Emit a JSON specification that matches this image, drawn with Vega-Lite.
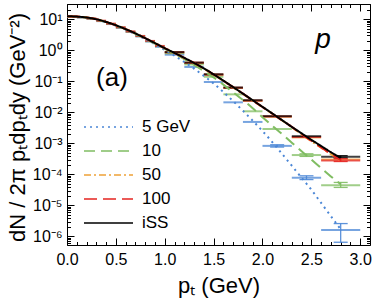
{
  "$schema": "https://vega.github.io/schema/vega-lite/v6.json",
  "width": 303,
  "height": 241,
  "autosize": {"type": "none"},
  "padding": {"left": 67, "top": 4, "right": 4, "bottom": 55},
  "background": "white",
  "config": {
    "view": {"stroke": null},
    "font": "Liberation Sans",
    "axis": {
      "grid": false,
      "domainColor": "black",
      "domainWidth": 1,
      "tickColor": "black",
      "tickWidth": 1,
      "labelColor": "black",
      "titleColor": "black",
      "labelFont": "Liberation Sans",
      "titleFont": "Liberation Sans",
      "labelFontSize": 16,
      "titleFontSize": 22,
      "titleFontWeight": "normal",
      "labelOverlap": false,
      "labelFlush": false,
      "labelBound": false
    },
    "legend": {
      "orient": "none", "legendX": 16, "legendY": 115, "title": null, "padding": 0,
      "labelFontSize": 17, "labelFont": "Liberation Sans", "labelColor": "black", "labelOffset": 8,
      "symbolSize": 2400, "clipHeight": 16, "rowPadding": 7, "symbolType": "stroke"
    }
  },
  "datasets": {
    "curves": [
      {"s":"5 GeV","pt":0.0,"v":12.3},{"s":"5 GeV","pt":0.1,"v":12.0},{"s":"5 GeV","pt":0.2,"v":11.2},{"s":"5 GeV","pt":0.3,"v":9.8},{"s":"5 GeV","pt":0.4,"v":8.0},{"s":"5 GeV","pt":0.5,"v":6.2},{"s":"5 GeV","pt":0.6,"v":4.6},{"s":"5 GeV","pt":0.7,"v":3.3},{"s":"5 GeV","pt":0.8,"v":2.3},{"s":"5 GeV","pt":0.9,"v":1.56},{"s":"5 GeV","pt":1.0,"v":1.03},{"s":"5 GeV","pt":1.1,"v":0.67},{"s":"5 GeV","pt":1.2,"v":0.42},{"s":"5 GeV","pt":1.3,"v":0.255},{"s":"5 GeV","pt":1.4,"v":0.15},{"s":"5 GeV","pt":1.5,"v":0.085},{"s":"5 GeV","pt":1.6,"v":0.045},{"s":"5 GeV","pt":1.7,"v":0.023},{"s":"5 GeV","pt":1.8,"v":0.0112},{"s":"5 GeV","pt":1.9,"v":0.0054},{"s":"5 GeV","pt":2.0,"v":0.0025},{"s":"5 GeV","pt":2.1,"v":0.0011},{"s":"5 GeV","pt":2.2,"v":0.00046},{"s":"5 GeV","pt":2.3,"v":0.00019},{"s":"5 GeV","pt":2.4,"v":0.000078},{"s":"5 GeV","pt":2.5,"v":0.000032},{"s":"5 GeV","pt":2.6,"v":0.000012},{"s":"5 GeV","pt":2.7,"v":0.0000045},{"s":"5 GeV","pt":2.8,"v":0.0000017},
      {"s":"10","pt":0.0,"v":12.4},{"s":"10","pt":0.1,"v":12.1},{"s":"10","pt":0.2,"v":11.3},{"s":"10","pt":0.3,"v":9.9},{"s":"10","pt":0.4,"v":8.1},{"s":"10","pt":0.5,"v":6.3},{"s":"10","pt":0.6,"v":4.7},{"s":"10","pt":0.7,"v":3.4},{"s":"10","pt":0.8,"v":2.38},{"s":"10","pt":0.9,"v":1.64},{"s":"10","pt":1.0,"v":1.12},{"s":"10","pt":1.1,"v":0.77},{"s":"10","pt":1.2,"v":0.52},{"s":"10","pt":1.3,"v":0.34},{"s":"10","pt":1.4,"v":0.215},{"s":"10","pt":1.5,"v":0.133},{"s":"10","pt":1.6,"v":0.078},{"s":"10","pt":1.7,"v":0.044},{"s":"10","pt":1.8,"v":0.025},{"s":"10","pt":1.9,"v":0.0135},{"s":"10","pt":2.0,"v":0.007},{"s":"10","pt":2.1,"v":0.0037},{"s":"10","pt":2.2,"v":0.002},{"s":"10","pt":2.3,"v":0.00105},{"s":"10","pt":2.4,"v":0.00056},{"s":"10","pt":2.5,"v":0.0003},{"s":"10","pt":2.6,"v":0.00016},{"s":"10","pt":2.7,"v":0.000086},{"s":"10","pt":2.8,"v":0.000048},
      {"s":"50","pt":0.0,"v":12.5},{"s":"50","pt":0.1,"v":12.2},{"s":"50","pt":0.2,"v":11.4},{"s":"50","pt":0.3,"v":10.0},{"s":"50","pt":0.4,"v":8.2},{"s":"50","pt":0.5,"v":6.4},{"s":"50","pt":0.6,"v":4.8},{"s":"50","pt":0.7,"v":3.5},{"s":"50","pt":0.8,"v":2.45},{"s":"50","pt":0.9,"v":1.7},{"s":"50","pt":1.0,"v":1.16},{"s":"50","pt":1.1,"v":0.81},{"s":"50","pt":1.2,"v":0.56},{"s":"50","pt":1.3,"v":0.385},{"s":"50","pt":1.4,"v":0.255},{"s":"50","pt":1.5,"v":0.165},{"s":"50","pt":1.6,"v":0.103},{"s":"50","pt":1.7,"v":0.064},{"s":"50","pt":1.8,"v":0.039},{"s":"50","pt":1.9,"v":0.024},{"s":"50","pt":2.0,"v":0.0147},{"s":"50","pt":2.1,"v":0.009},{"s":"50","pt":2.2,"v":0.0055},{"s":"50","pt":2.3,"v":0.0033},{"s":"50","pt":2.4,"v":0.00195},{"s":"50","pt":2.5,"v":0.00118},{"s":"50","pt":2.6,"v":0.00072},{"s":"50","pt":2.7,"v":0.00045},{"s":"50","pt":2.8,"v":0.00028},
      {"s":"100","pt":0.0,"v":12.5},{"s":"100","pt":0.1,"v":12.2},{"s":"100","pt":0.2,"v":11.4},{"s":"100","pt":0.3,"v":10.0},{"s":"100","pt":0.4,"v":8.2},{"s":"100","pt":0.5,"v":6.4},{"s":"100","pt":0.6,"v":4.8},{"s":"100","pt":0.7,"v":3.5},{"s":"100","pt":0.8,"v":2.45},{"s":"100","pt":0.9,"v":1.7},{"s":"100","pt":1.0,"v":1.17},{"s":"100","pt":1.1,"v":0.82},{"s":"100","pt":1.2,"v":0.57},{"s":"100","pt":1.3,"v":0.39},{"s":"100","pt":1.4,"v":0.26},{"s":"100","pt":1.5,"v":0.167},{"s":"100","pt":1.6,"v":0.104},{"s":"100","pt":1.7,"v":0.065},{"s":"100","pt":1.8,"v":0.04},{"s":"100","pt":1.9,"v":0.0243},{"s":"100","pt":2.0,"v":0.0149},{"s":"100","pt":2.1,"v":0.0091},{"s":"100","pt":2.2,"v":0.0055},{"s":"100","pt":2.3,"v":0.0034},{"s":"100","pt":2.4,"v":0.00198},{"s":"100","pt":2.5,"v":0.00121},{"s":"100","pt":2.6,"v":0.00074},{"s":"100","pt":2.7,"v":0.00046},{"s":"100","pt":2.8,"v":0.00029},
      {"s":"iSS","pt":0.0,"v":12.5},{"s":"iSS","pt":0.1,"v":12.2},{"s":"iSS","pt":0.2,"v":11.4},{"s":"iSS","pt":0.3,"v":10.0},{"s":"iSS","pt":0.4,"v":8.2},{"s":"iSS","pt":0.5,"v":6.4},{"s":"iSS","pt":0.6,"v":4.8},{"s":"iSS","pt":0.7,"v":3.5},{"s":"iSS","pt":0.8,"v":2.45},{"s":"iSS","pt":0.9,"v":1.7},{"s":"iSS","pt":1.0,"v":1.17},{"s":"iSS","pt":1.1,"v":0.82},{"s":"iSS","pt":1.2,"v":0.57},{"s":"iSS","pt":1.3,"v":0.39},{"s":"iSS","pt":1.4,"v":0.26},{"s":"iSS","pt":1.5,"v":0.168},{"s":"iSS","pt":1.6,"v":0.105},{"s":"iSS","pt":1.7,"v":0.065},{"s":"iSS","pt":1.8,"v":0.04},{"s":"iSS","pt":1.9,"v":0.0245},{"s":"iSS","pt":2.0,"v":0.015},{"s":"iSS","pt":2.1,"v":0.0092},{"s":"iSS","pt":2.2,"v":0.0056},{"s":"iSS","pt":2.3,"v":0.0034},{"s":"iSS","pt":2.4,"v":0.0021},{"s":"iSS","pt":2.5,"v":0.0013},{"s":"iSS","pt":2.6,"v":0.00082},{"s":"iSS","pt":2.7,"v":0.00052},{"s":"iSS","pt":2.8,"v":0.00034}
    ],
    "bars": [
      {"s":"5 GeV","lo":0.0,"hi":0.1,"v":12.0},{"s":"5 GeV","lo":0.1,"hi":0.2,"v":11.4},{"s":"5 GeV","lo":0.2,"hi":0.3,"v":10.3},{"s":"5 GeV","lo":0.3,"hi":0.4,"v":8.7},{"s":"5 GeV","lo":0.4,"hi":0.5,"v":7.0},{"s":"5 GeV","lo":0.5,"hi":0.6,"v":5.3},{"s":"5 GeV","lo":0.6,"hi":0.7,"v":3.9},{"s":"5 GeV","lo":0.7,"hi":0.8,"v":2.8},{"s":"5 GeV","lo":0.8,"hi":0.9,"v":1.92},{"s":"5 GeV","lo":0.9,"hi":1.0,"v":1.3},
      {"s":"5 GeV","lo":1.0,"hi":1.2,"v":0.72},{"s":"5 GeV","lo":1.2,"hi":1.4,"v":0.29},{"s":"5 GeV","lo":1.4,"hi":1.6,"v":0.095},{"s":"5 GeV","lo":1.6,"hi":1.8,"v":0.021},{"s":"5 GeV","lo":1.8,"hi":2.0,"v":0.0049},{"s":"5 GeV","lo":2.0,"hi":2.3,"v":0.00083},{"s":"5 GeV","lo":2.3,"hi":2.6,"v":0.000078},{"s":"5 GeV","lo":2.6,"hi":3.0,"v":0.0000016},
      {"s":"10","lo":0.0,"hi":0.1,"v":12.1},{"s":"10","lo":0.1,"hi":0.2,"v":11.5},{"s":"10","lo":0.2,"hi":0.3,"v":10.4},{"s":"10","lo":0.3,"hi":0.4,"v":8.8},{"s":"10","lo":0.4,"hi":0.5,"v":7.1},{"s":"10","lo":0.5,"hi":0.6,"v":5.4},{"s":"10","lo":0.6,"hi":0.7,"v":3.95},{"s":"10","lo":0.7,"hi":0.8,"v":2.85},{"s":"10","lo":0.8,"hi":0.9,"v":1.95},{"s":"10","lo":0.9,"hi":1.0,"v":1.34},
      {"s":"10","lo":1.0,"hi":1.2,"v":0.8},{"s":"10","lo":1.2,"hi":1.4,"v":0.35},{"s":"10","lo":1.4,"hi":1.6,"v":0.14},{"s":"10","lo":1.6,"hi":1.8,"v":0.038},{"s":"10","lo":1.8,"hi":2.0,"v":0.0108},{"s":"10","lo":2.0,"hi":2.3,"v":0.0029},{"s":"10","lo":2.3,"hi":2.6,"v":0.00042},{"s":"10","lo":2.6,"hi":3.0,"v":0.000045},
      {"s":"50","lo":1.0,"hi":1.2,"v":0.86},{"s":"50","lo":1.2,"hi":1.4,"v":0.39},{"s":"50","lo":1.4,"hi":1.6,"v":0.163},{"s":"50","lo":1.6,"hi":1.8,"v":0.061},{"s":"50","lo":1.8,"hi":2.0,"v":0.0235},{"s":"50","lo":2.0,"hi":2.3,"v":0.0072},{"s":"50","lo":2.3,"hi":2.6,"v":0.00155},{"s":"50","lo":2.6,"hi":3.0,"v":0.0003},
      {"s":"100","lo":0.0,"hi":0.1,"v":12.3},{"s":"100","lo":0.1,"hi":0.2,"v":11.7},{"s":"100","lo":0.2,"hi":0.3,"v":10.6},{"s":"100","lo":0.3,"hi":0.4,"v":9.0},{"s":"100","lo":0.4,"hi":0.5,"v":7.2},{"s":"100","lo":0.5,"hi":0.6,"v":5.5},{"s":"100","lo":0.6,"hi":0.7,"v":4.05},{"s":"100","lo":0.7,"hi":0.8,"v":2.9},{"s":"100","lo":0.8,"hi":0.9,"v":2.0},{"s":"100","lo":0.9,"hi":1.0,"v":1.38},
      {"s":"100","lo":1.0,"hi":1.2,"v":0.87},{"s":"100","lo":1.2,"hi":1.4,"v":0.4},{"s":"100","lo":1.4,"hi":1.6,"v":0.165},{"s":"100","lo":1.6,"hi":1.8,"v":0.062},{"s":"100","lo":1.8,"hi":2.0,"v":0.024},{"s":"100","lo":2.0,"hi":2.3,"v":0.0074},{"s":"100","lo":2.3,"hi":2.6,"v":0.0016},{"s":"100","lo":2.6,"hi":3.0,"v":0.00028},
      {"s":"iSS","lo":1.0,"hi":1.2,"v":0.87},{"s":"iSS","lo":1.2,"hi":1.4,"v":0.4},{"s":"iSS","lo":1.4,"hi":1.6,"v":0.168},{"s":"iSS","lo":1.6,"hi":1.8,"v":0.063},{"s":"iSS","lo":1.8,"hi":2.0,"v":0.0245},{"s":"iSS","lo":2.0,"hi":2.3,"v":0.0075},{"s":"iSS","lo":2.3,"hi":2.6,"v":0.0017},{"s":"iSS","lo":2.6,"hi":3.0,"v":0.00037}
    ],
    "errs": [
      {"s":"5 GeV","pt":2.8,"lo":0.00000065,"hi":0.0000026},
      {"s":"5 GeV","pt":2.45,"lo":0.000068,"hi":0.00009},
      {"s":"5 GeV","pt":2.15,"lo":0.00076,"hi":0.0009},
      {"s":"10","pt":2.8,"lo":0.000038,"hi":0.000055},
      {"s":"10","pt":2.45,"lo":0.00038,"hi":0.00046},
      {"s":"100","pt":2.8,"lo":0.00026,"hi":0.00032},
      {"s":"iSS","pt":2.8,"lo":0.00034,"hi":0.0004}
    ]
  },
  "layer": [
    {
      "data": {"name": "bars"},
      "mark": {"type": "rule", "strokeWidth": 2, "opacity": 0.75},
      "encoding": {
        "x": {
          "field": "lo", "type": "quantitative",
          "scale": {"domain": [0, 3.1], "nice": false, "zero": false},
          "axis": {
            "orient": "top", "title": null, "labels": false,
            "values": [0,0.1,0.2,0.3,0.4,0.5,0.6,0.7,0.8,0.9,1,1.1,1.2,1.3,1.4,1.5,1.6,1.7,1.8,1.9,2,2.1,2.2,2.3,2.4,2.5,2.6,2.7,2.8,2.9,3,3.1],
            "tickSize": {"condition": {"test": "abs(datum.value*2 - round(datum.value*2)) < 0.001", "value": -7}, "value": -3.5}
          }
        },
        "x2": {"field": "hi"},
        "y": {
          "field": "v", "type": "quantitative",
          "scale": {"type": "log", "domain": [5.3e-7, 31], "nice": false},
          "axis": {
            "orient": "right", "title": null, "labels": false,
            "values": [6e-7,7e-7,8e-7,9e-7,1e-6,2e-6,3e-6,4e-6,5e-6,6e-6,7e-6,8e-6,9e-6,1e-5,2e-5,3e-5,4e-5,5e-5,6e-5,7e-5,8e-5,9e-5,1e-4,2e-4,3e-4,4e-4,5e-4,6e-4,7e-4,8e-4,9e-4,0.001,0.002,0.003,0.004,0.005,0.006,0.007,0.008,0.009,0.01,0.02,0.03,0.04,0.05,0.06,0.07,0.08,0.09,0.1,0.2,0.3,0.4,0.5,0.6,0.7,0.8,0.9,1,2,3,4,5,6,7,8,9,10,20,30],
            "tickSize": {"condition": {"test": "abs(log(datum.value)/LN10 - round(log(datum.value)/LN10)) < 0.001", "value": -7}, "value": -3.5}
          }
        },
        "color": {"field": "s", "type": "nominal",
          "scale": {"domain": ["5 GeV","10","50","100","iSS"], "range": ["#4a86d6","#80bd62","#eea136","#e52420","#000000"]}}
      }
    },
    {
      "data": {"name": "errs"},
      "mark": {"type": "rule", "strokeWidth": 1.3, "opacity": 0.9},
      "encoding": {
        "x": {"field": "pt", "type": "quantitative", "axis": null},
        "y": {"field": "lo", "type": "quantitative", "axis": null},
        "y2": {"field": "hi"},
        "color": {"field": "s", "type": "nominal"}
      }
    },
    {
      "data": {"name": "errs"},
      "mark": {"type": "tick", "orient": "horizontal", "size": 14, "thickness": 1.3, "opacity": 0.9},
      "encoding": {
        "x": {"field": "pt", "type": "quantitative", "axis": null},
        "y": {"field": "lo", "type": "quantitative", "axis": null},
        "color": {"field": "s", "type": "nominal"}
      }
    },
    {
      "data": {"name": "errs"},
      "mark": {"type": "tick", "orient": "horizontal", "size": 14, "thickness": 1.3, "opacity": 0.9},
      "encoding": {
        "x": {"field": "pt", "type": "quantitative", "axis": null},
        "y": {"field": "hi", "type": "quantitative", "axis": null},
        "color": {"field": "s", "type": "nominal"}
      }
    },
    {
      "data": {"name": "curves"},
      "mark": {"type": "line", "interpolate": "monotone"},
      "encoding": {
        "x": {
          "field": "pt", "type": "quantitative",
          "axis": {
            "orient": "bottom", "title": "pₜ (GeV)",
            "titleY": 40, "titleBaseline": "middle",
            "labelPadding": 13,
            "values": [0,0.1,0.2,0.3,0.4,0.5,0.6,0.7,0.8,0.9,1,1.1,1.2,1.3,1.4,1.5,1.6,1.7,1.8,1.9,2,2.1,2.2,2.3,2.4,2.5,2.6,2.7,2.8,2.9,3,3.1],
            "labelExpr": "abs(datum.value*2 - round(datum.value*2)) < 0.001 ? format(datum.value, '.1f') : ''",
            "tickSize": {"condition": {"test": "abs(datum.value*2 - round(datum.value*2)) < 0.001", "value": -7}, "value": -3.5}
          }
        },
        "y": {
          "field": "v", "type": "quantitative",
          "axis": {
            "orient": "left", "title": "dN / 2π pₜdpₜdy (GeV⁻²)",
            "titleX": -50, "titleY": 123, "titleAngle": -90, "titleAlign": "center", "titleBaseline": "middle",
            "labelPadding": 12,
            "values": [6e-7,7e-7,8e-7,9e-7,1e-6,2e-6,3e-6,4e-6,5e-6,6e-6,7e-6,8e-6,9e-6,1e-5,2e-5,3e-5,4e-5,5e-5,6e-5,7e-5,8e-5,9e-5,1e-4,2e-4,3e-4,4e-4,5e-4,6e-4,7e-4,8e-4,9e-4,0.001,0.002,0.003,0.004,0.005,0.006,0.007,0.008,0.009,0.01,0.02,0.03,0.04,0.05,0.06,0.07,0.08,0.09,0.1,0.2,0.3,0.4,0.5,0.6,0.7,0.8,0.9,1,2,3,4,5,6,7,8,9,10,20,30],
            "labelExpr": "abs(log(datum.value)/LN10 - round(log(datum.value)/LN10)) < 0.001 ? '10' + ['⁻⁶','⁻⁵','⁻⁴','⁻³','⁻²','⁻¹','⁰','¹'][round(log(datum.value)/LN10)+6] : ''",
            "tickSize": {"condition": {"test": "abs(log(datum.value)/LN10 - round(log(datum.value)/LN10)) < 0.001", "value": -7}, "value": -3.5}
          }
        },
        "color": {"field": "s", "type": "nominal"},
        "strokeDash": {"field": "s", "type": "nominal",
          "scale": {"domain": ["5 GeV","10","50","100","iSS"], "range": [[2,4],[11,6],[7,3,2,3],[13,6],[1,0]]}},
        "strokeWidth": {"field": "s", "type": "nominal",
          "scale": {"domain": ["5 GeV","10","50","100","iSS"], "range": [2,2,2,2,4]}}
      }
    },
    {
      "data": {"values": [{"pt": 0.46, "v": 0.126, "t": "(a)"}]},
      "mark": {"type": "text", "fontSize": 26, "align": "center", "baseline": "middle", "font": "Liberation Sans", "color": "black"},
      "encoding": {
        "x": {"field": "pt", "type": "quantitative", "axis": null},
        "y": {"field": "v", "type": "quantitative", "axis": null},
        "text": {"field": "t"}
      }
    },
    {
      "data": {"values": [{"pt": 2.62, "v": 1.15, "t": "p"}]},
      "mark": {"type": "text", "fontSize": 28, "fontStyle": "italic", "align": "center", "baseline": "alphabetic", "font": "Liberation Sans", "color": "black"},
      "encoding": {
        "x": {"field": "pt", "type": "quantitative", "axis": null},
        "y": {"field": "v", "type": "quantitative", "axis": null},
        "text": {"field": "t"}
      }
    }
  ],
  "resolve": {"axis": {"x": "independent", "y": "independent"}}
}
